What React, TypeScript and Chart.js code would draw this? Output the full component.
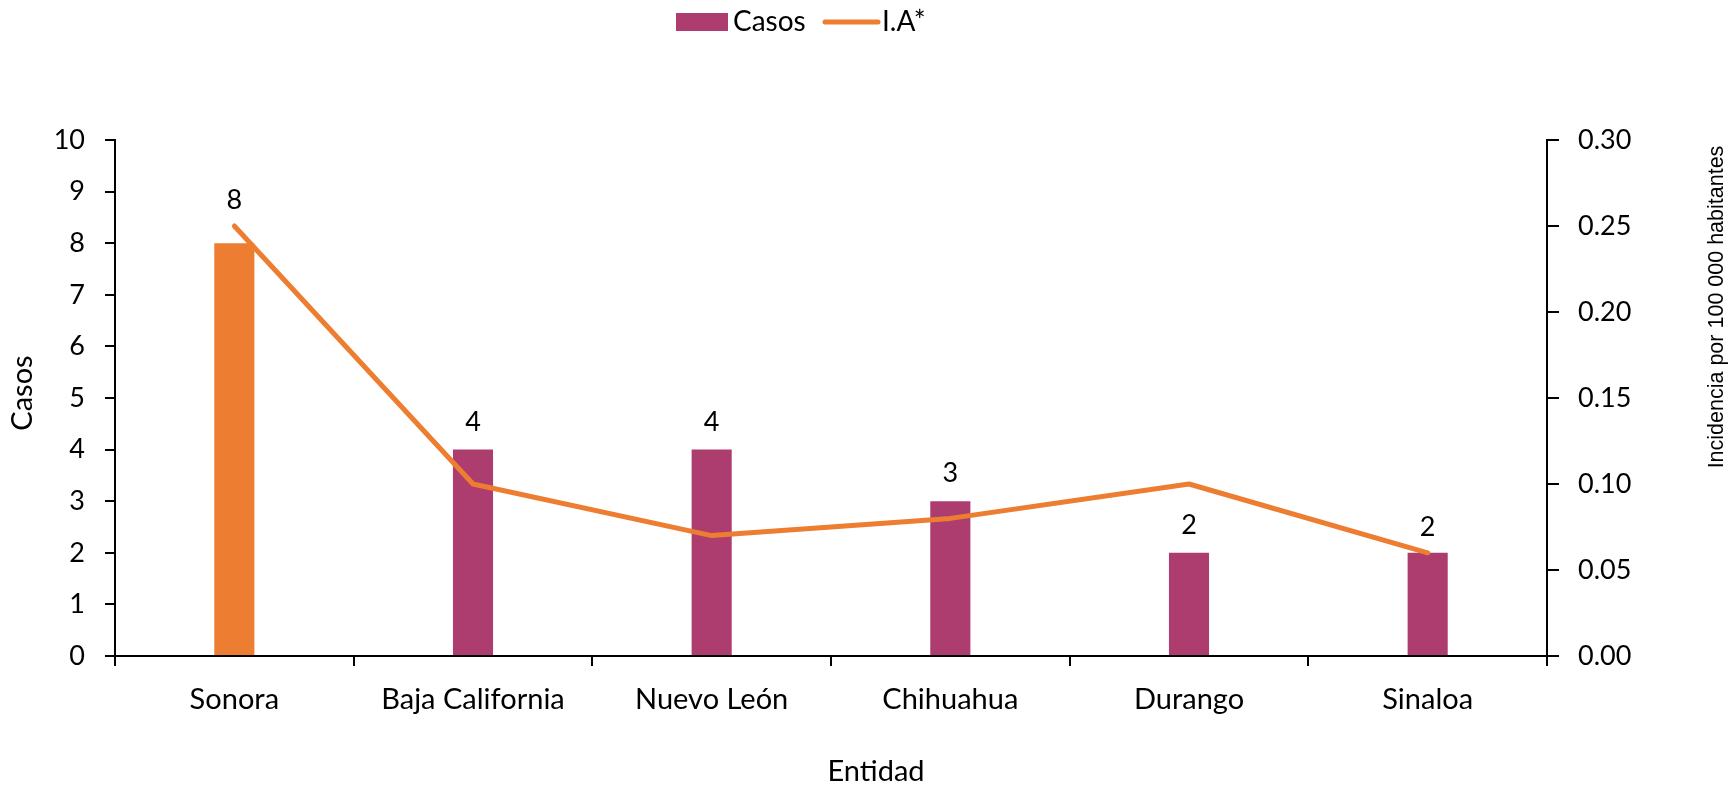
import React, { useEffect, useRef } from "react";
import { Chart, registerables } from "chart.js";

Chart.register(...registerables);

// ---- data ----
const categories = ["Sonora", "Baja California", "Nuevo León", "Chihuahua", "Durango", "Sinaloa"];
const casos = [8, 4, 4, 3, 2, 2];
const incidencia = [0.25, 0.1, 0.07, 0.08, 0.1, 0.06];
const casosAxis = { min: 0, max: 10, step: 1 };
const iaAxis = { min: 0, max: 0.3, step: 0.05 };
const legendLabels = ["Casos", "I.A*"];
const axisTitles = { x: "Entidad", y: "Casos", y1: "Incidencia por 100 000 habitantes" };

// ---- styles ----
const ORANGE = "#ED7D31";
const MAGENTA = "#AD3C6F";
const FONT = "Lato, 'Noto Sans', sans-serif";
const FS = 27;
const FS_WORD = 29;

const overlayPlugin = {
  id: "overlay",
  afterDatasetsDraw(chart: any) {
    const ctx = chart.ctx;
    const barMeta = chart.getDatasetMeta(0);
    const lineMeta = chart.getDatasetMeta(1);
    ctx.save();
    ctx.font = `${FS}px ${FONT}`;
    ctx.fillStyle = "#000";
    ctx.textAlign = "center";
    ctx.textBaseline = "alphabetic";
    barMeta.data.forEach((bar: any, i: number) => {
      const top = bar.y;
      const lp = lineMeta.data[i];
      let baseline = top - 19;
      if (lp && lp.y >= top - 50 && lp.y <= top) baseline = lp.y - 17;
      ctx.fillText(String(casos[i]), bar.x, baseline);
    });
    ctx.restore();
  },
  afterDraw(chart: any) {
    const ctx = chart.ctx;
    ctx.save();
    // legend
    ctx.fillStyle = MAGENTA;
    ctx.fillRect(676, 13, 52, 18);
    ctx.font = `28px ${FONT}`;
    ctx.fillStyle = "#000";
    ctx.textAlign = "left";
    ctx.textBaseline = "alphabetic";
    ctx.fillText(legendLabels[0], 733, 31);
    ctx.strokeStyle = ORANGE;
    ctx.lineWidth = 5;
    ctx.lineCap = "round";
    ctx.beginPath();
    ctx.moveTo(825, 22);
    ctx.lineTo(878, 22);
    ctx.stroke();
    ctx.fillText(legendLabels[1], 882, 31);

    // x title
    ctx.font = `${FS_WORD}px ${FONT}`;
    ctx.textAlign = "center";
    ctx.fillText(axisTitles.x, 876, 781);

    // left title
    ctx.save();
    ctx.translate(32, 393);
    ctx.rotate(-Math.PI / 2);
    ctx.fillText(axisTitles.y, 0, 0);
    ctx.restore();

    // right title
    ctx.save();
    ctx.font = `21.5px 'Liberation Sans', Arial, sans-serif`;
    ctx.translate(1723, 307);
    ctx.rotate(-Math.PI / 2);
    ctx.fillText(axisTitles.y1, 0, 0);
    ctx.restore();
    ctx.restore();
  },
};

export default function App() {
  const ref = useRef<HTMLCanvasElement | null>(null);

  useEffect(() => {
    if (!ref.current) return;
    const chart = new Chart(ref.current, {
      type: "bar",
      data: {
        labels: categories,
        datasets: [
          {
            type: "bar",
            label: legendLabels[0],
            data: casos,
            backgroundColor: categories.map((_, i) => (i === 0 ? ORANGE : MAGENTA)),
            borderWidth: 0,
            barPercentage: 0.168,
            categoryPercentage: 1,
            yAxisID: "y",
            order: 1,
          },
          {
            type: "line",
            label: legendLabels[1],
            data: incidencia,
            borderColor: ORANGE,
            backgroundColor: ORANGE,
            borderWidth: 5,
            borderCapStyle: "round",
            borderJoinStyle: "round",
            pointRadius: 0,
            pointHoverRadius: 0,
            tension: 0,
            fill: false,
            yAxisID: "y1",
            order: 0,
          },
        ],
      },
      options: {
        responsive: false,
        animation: false,
        devicePixelRatio: 1,
        layout: { padding: { top: 140, left: 0, right: 0, bottom: 0 } },
        plugins: {
          legend: { display: false },
          tooltip: { enabled: false },
        },
        scales: {
          x: {
            offset: true,
            grid: {
              display: true,
              drawOnChartArea: false,
              drawTicks: true,
              tickLength: 10,
              offset: true,
              color: "#000",
              lineWidth: 2,
            },
            border: { display: true, color: "#000", width: 2 },
            ticks: {
              color: "#000",
              font: { family: FONT, size: FS_WORD },
              padding: 16,
              maxRotation: 0,
              autoSkip: false,
            },
            afterFit: (s: any) => {
              s.height = 129;
            },
          },
          y: {
            position: "left",
            min: casosAxis.min,
            max: casosAxis.max,
            grid: {
              drawOnChartArea: false,
              drawTicks: true,
              tickLength: 10,
              color: "#000",
              lineWidth: 2,
            },
            border: { display: true, color: "#000", width: 2 },
            ticks: {
              stepSize: casosAxis.step,
              color: "#000",
              font: { family: FONT, size: FS },
              padding: 20,
            },
            afterFit: (s: any) => {
              s.width = 115;
            },
          },
          y1: {
            position: "right",
            min: iaAxis.min,
            max: iaAxis.max,
            grid: {
              drawOnChartArea: false,
              drawTicks: true,
              tickLength: 12,
              color: "#000",
              lineWidth: 2,
            },
            border: { display: true, color: "#000", width: 2 },
            ticks: {
              stepSize: iaAxis.step,
              color: "#000",
              font: { family: FONT, size: FS },
              padding: 19,
              callback: (v: any) => Number(v).toFixed(2),
            },
            afterFit: (s: any) => {
              s.width = 182;
            },
          },
        },
      },
      plugins: [overlayPlugin],
    } as any);
    return () => chart.destroy();
  }, []);

  return (
    <div style={{ position: "absolute", left: 0, top: 0, width: 1729, height: 785, background: "#fff" }}>
      <canvas ref={ref} width={1729} height={785} style={{ display: "block" }} />
    </div>
  );
}
